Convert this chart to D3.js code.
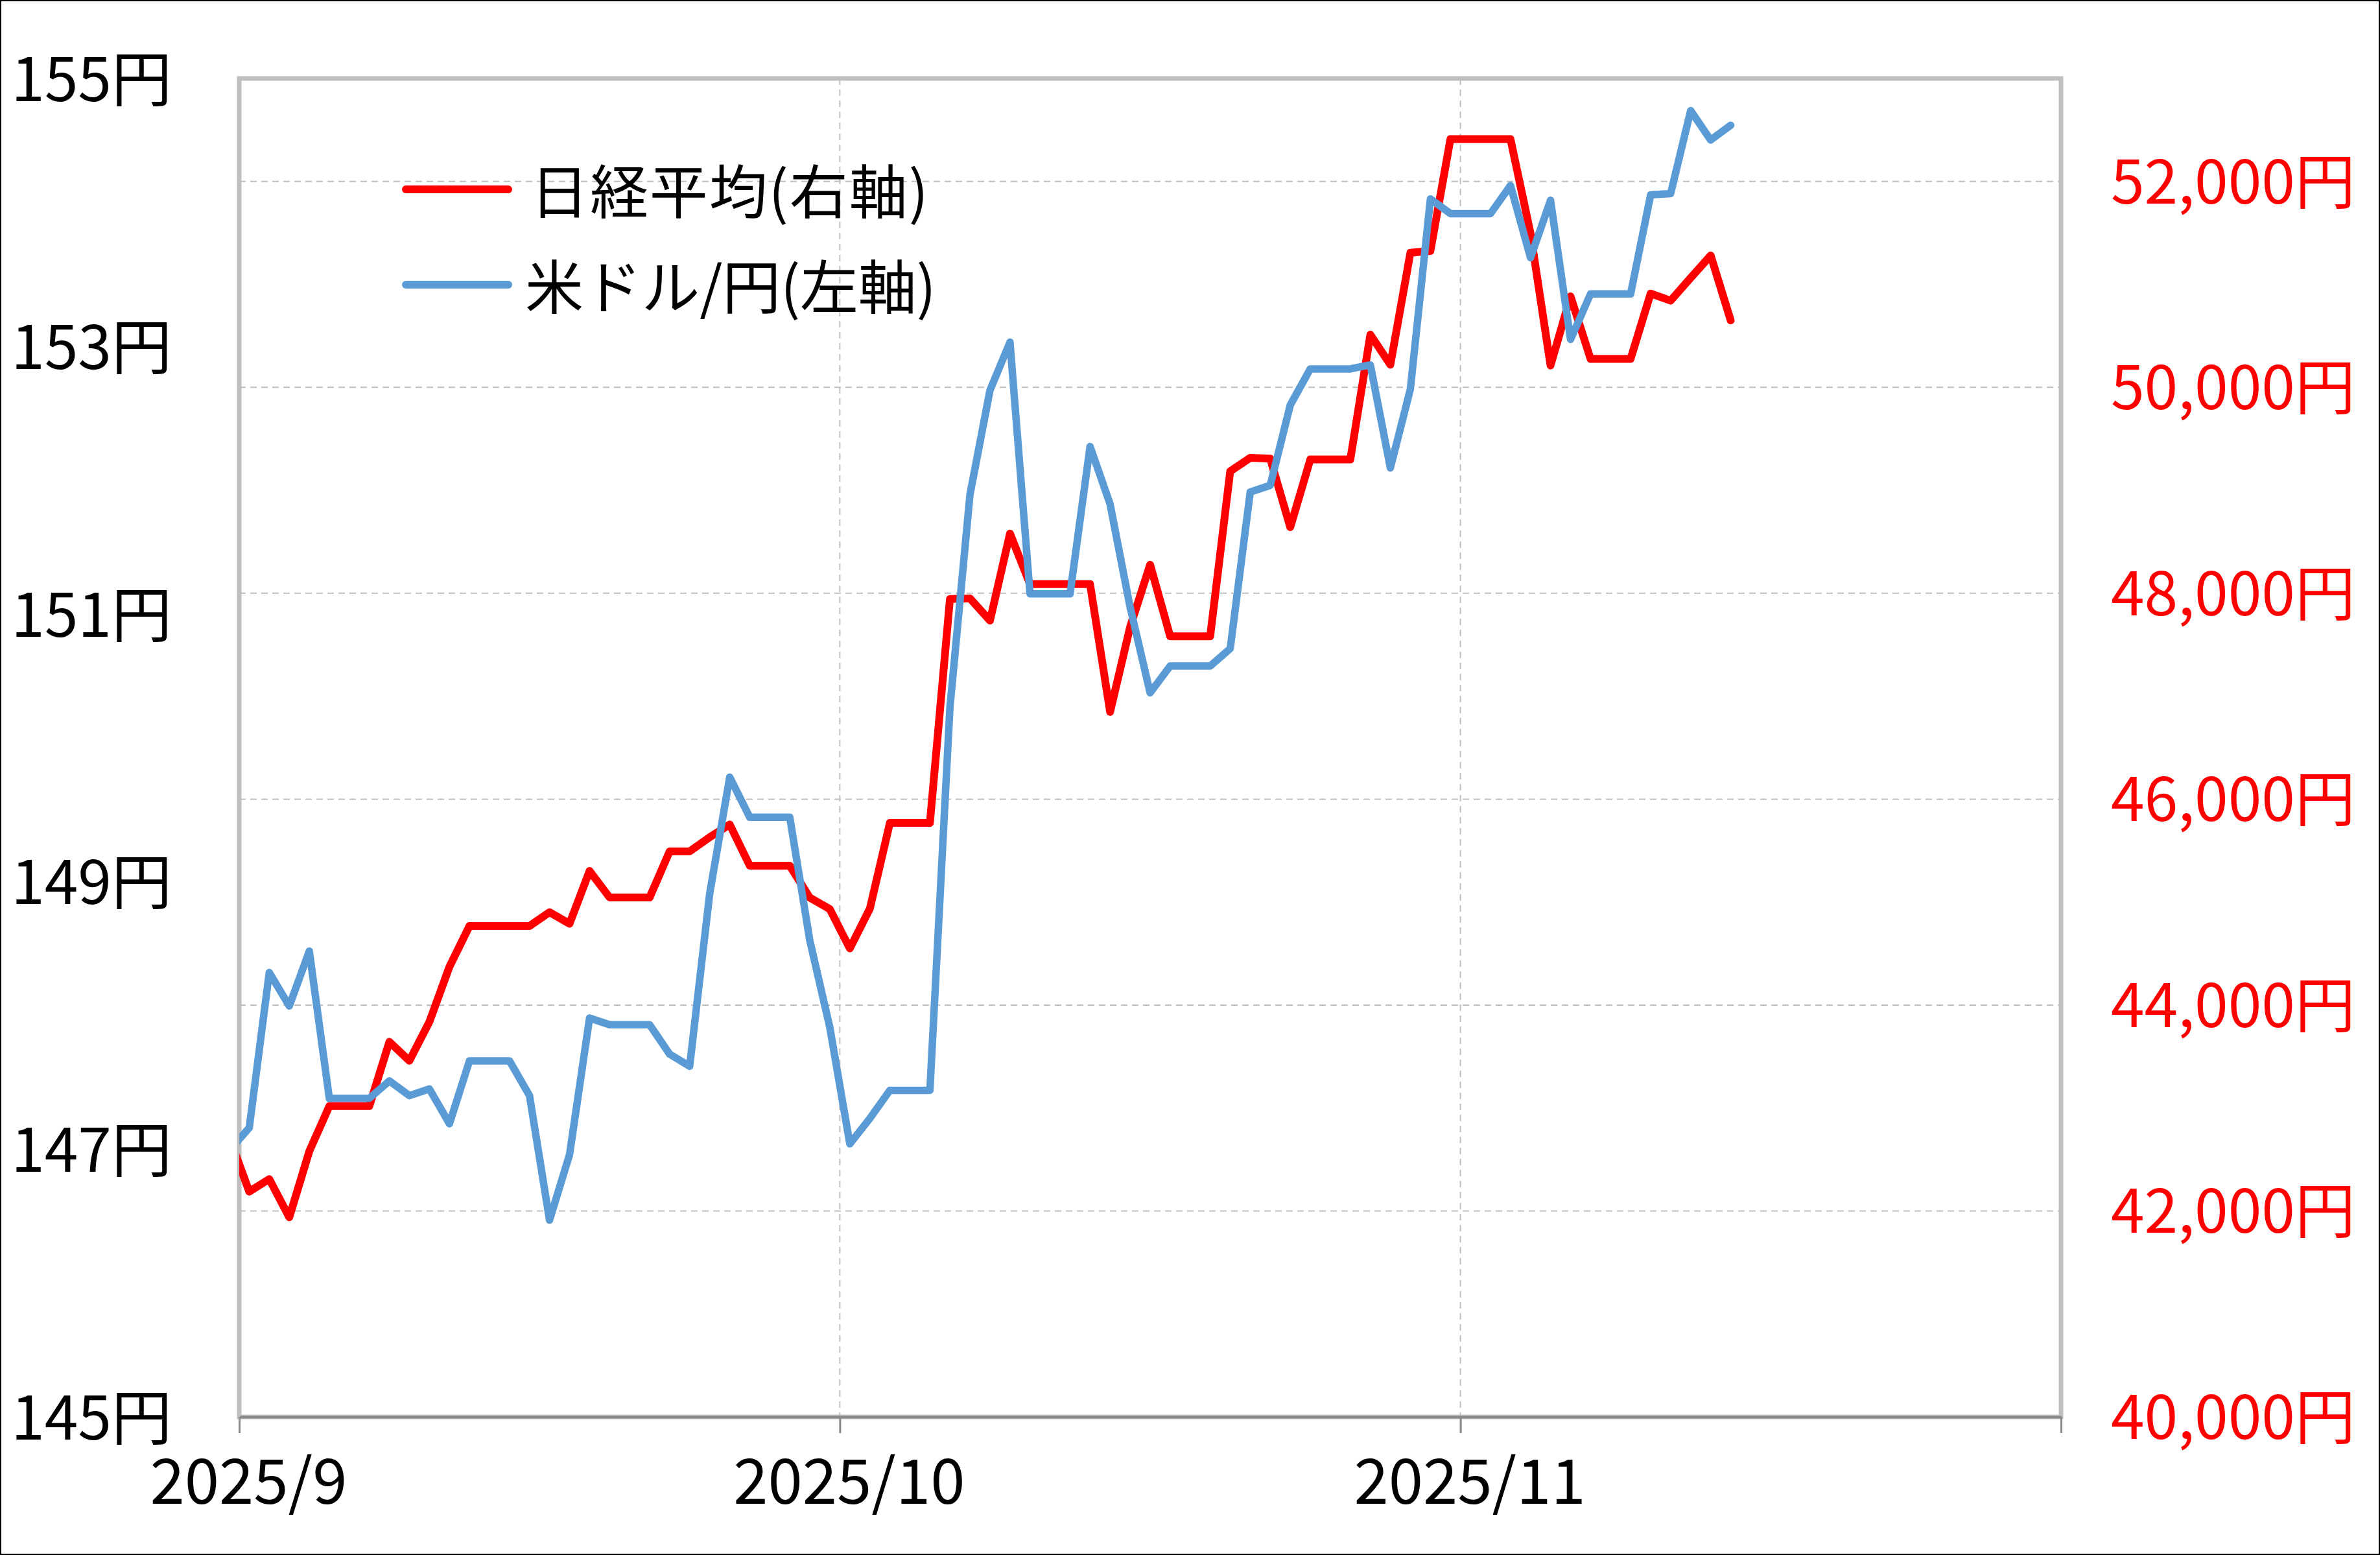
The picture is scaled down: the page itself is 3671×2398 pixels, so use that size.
<!DOCTYPE html>
<html><head><meta charset="utf-8">
<script src="https://cdn.jsdelivr.net/npm/d3@7"></script>
<style>html,body{margin:0;padding:0;background:#fff;} svg{display:block;}</style>
</head><body>
<svg id="chart" width="3671" height="2398"></svg>
<script>
// ---- data ----
const dates = [
 "2025-08-31",
 "2025-09-01","2025-09-02","2025-09-03","2025-09-04","2025-09-05","2025-09-06","2025-09-07",
 "2025-09-08","2025-09-09","2025-09-10","2025-09-11","2025-09-12","2025-09-13","2025-09-14",
 "2025-09-15","2025-09-16","2025-09-17","2025-09-18","2025-09-19","2025-09-20","2025-09-21",
 "2025-09-22","2025-09-23","2025-09-24","2025-09-25","2025-09-26","2025-09-27","2025-09-28",
 "2025-09-29","2025-09-30",
 "2025-10-01","2025-10-02","2025-10-03","2025-10-04","2025-10-05",
 "2025-10-06","2025-10-07","2025-10-08","2025-10-09","2025-10-10","2025-10-11","2025-10-12",
 "2025-10-13","2025-10-14","2025-10-15","2025-10-16","2025-10-17","2025-10-18","2025-10-19",
 "2025-10-20","2025-10-21","2025-10-22","2025-10-23","2025-10-24","2025-10-25","2025-10-26",
 "2025-10-27","2025-10-28","2025-10-29","2025-10-30","2025-10-31",
 "2025-11-01","2025-11-02","2025-11-03","2025-11-04","2025-11-05","2025-11-06","2025-11-07",
 "2025-11-08","2025-11-09",
 "2025-11-10","2025-11-11","2025-11-12","2025-11-13","2025-11-14"
];
const nikkei = [
 42718,
 42188,42310,41938,42580,43018,43018,43018,
 43643,43459,43837,44372,44768,44768,44768,
 44768,44902,44790,45303,45045,45045,45045,
 45493,45493,45630,45754,45354,45354,45354,
 45043,44932,
 44550,44936,45769,45769,45769,
 47944,47950,47734,48580,48088,48088,48088,
 48088,46847,47672,48277,47582,47582,47582,
 49185,49316,49307,48641,49299,49299,49299,
 50512,50219,51307,51325,52411,
 52411,52411,52411,51497,50212,50883,50276,
 50276,50276,
 50911,50842,51063,51281,50650
];
const usdjpy = [
 146.99,
 147.16,148.32,148.07,148.48,147.38,147.38,147.38,
 147.51,147.40,147.45,147.19,147.66,147.66,147.66,
 147.40,146.47,146.96,147.98,147.93,147.93,147.93,
 147.71,147.62,148.91,149.78,149.48,149.48,149.48,
 148.56,147.91,
 147.04,147.23,147.44,147.44,147.44,
 150.30,151.89,152.67,153.03,151.15,151.15,151.15,
 152.25,151.82,151.05,150.41,150.61,150.61,150.61,
 150.74,151.91,151.96,152.56,152.83,152.83,152.83,
 152.86,152.09,152.68,154.10,153.99,
 153.99,153.99,154.20,153.66,154.09,153.05,153.39,
 153.39,153.39,
 154.13,154.14,154.76,154.54,154.65
];
const leftTicks = [145,147,149,151,153,155];
const rightTicks = [40000,42000,44000,46000,48000,50000,52000];
const xTickDates = ["2025-09-01","2025-10-01","2025-11-01","2025-12-01"];
const xTickLabels = ["2025/9","2025/10","2025/11",""];
const seriesNames = ["日経平均(右軸)","米ドル/円(左軸)"];
const seriesColors = ["#FF0000","#5B9BD5"];

// ---- layout ----
const W = 3671, H = 2398;
const L = 369, R = 3179, T = 121, B = 2185;
const FONT = "'Noto Sans CJK JP','Noto Sans',sans-serif";
const parse = d3.timeParse("%Y-%m-%d");

const svg = d3.select("#chart");
svg.append("rect").attr("x",1).attr("y",1).attr("width",W-2).attr("height",H-2)
  .attr("fill","#fff").attr("stroke","#000").attr("stroke-width",2);

const x = d3.scaleTime().domain([parse("2025-09-01"), parse("2025-12-01")]).range([L, R]);
const yL = d3.scaleLinear().domain([145,155]).range([B, T]);
const yR = d3.scaleLinear().domain([40000,53000]).range([B, T]);
const half = d => d3.timeHour.offset(d, 12);

// gridlines (horizontal, from right axis)
svg.append("g").selectAll("line").data(rightTicks.filter(v => v > 40000)).join("line")
  .attr("x1", L).attr("x2", R).attr("y1", d => yR(d)).attr("y2", d => yR(d))
  .attr("stroke","#BFBFBF").attr("stroke-width",2).attr("stroke-dasharray","10,7");
// vertical gridlines
svg.append("g").selectAll("line").data(xTickDates.slice(1,3)).join("line")
  .attr("x1", d => x(parse(d))).attr("x2", d => x(parse(d))).attr("y1", T).attr("y2", B)
  .attr("stroke","#BFBFBF").attr("stroke-width",2).attr("stroke-dasharray","10,7");

// plot frame
svg.append("rect").attr("x",L).attr("y",T).attr("width",R-L).attr("height",B-T)
  .attr("fill","none").attr("stroke","#BFBFBF").attr("stroke-width",7);

// bottom axis
const xAxis = d3.axisBottom(x)
  .tickValues(xTickDates.map(parse))
  .tickFormat((d,i) => xTickLabels[i])
  .tickSize(25).tickSizeOuter(0);
const gx = svg.append("g").attr("transform",`translate(0,${B})`).call(xAxis);
gx.select(".domain").attr("stroke","#898989").attr("stroke-width",4);
gx.selectAll(".tick line").attr("stroke","#898989").attr("stroke-width",3);
gx.selectAll(".tick text").attr("font-family",FONT).attr("font-size",96).attr("fill","#000")
  .attr("y",0).attr("dy",0).attr("dx",14)
  .attr("transform","translate(0,92)")
  .attr("dominant-baseline","central");

// left axis
const gl = svg.append("g").attr("transform",`translate(${L},0)`)
  .call(d3.axisLeft(yL).tickValues(leftTicks).tickFormat(d => d + "円").tickSize(0).tickPadding(104));
gl.select(".domain").remove();
gl.selectAll(".tick text").attr("font-family",FONT).attr("font-size",93).attr("fill","#000")
  .attr("dy",-6).attr("dominant-baseline","central");

// right axis
const gr = svg.append("g").attr("transform",`translate(${R},0)`)
  .call(d3.axisRight(yR).tickValues(rightTicks).tickFormat(d => d3.format(",")(d) + "円").tickSize(0).tickPadding(77));
gr.select(".domain").remove();
gr.selectAll(".tick text").attr("font-family",FONT).attr("font-size",93).attr("fill","#FF0000")
  .attr("dy",-7).attr("dominant-baseline","central");

// clip
svg.append("defs").append("clipPath").attr("id","plotclip")
  .append("rect").attr("x",L).attr("y",T-20).attr("width",R-L).attr("height",B-T+40);

const pts = dates.map(parse);
const lineR = d3.line().x((d,i) => x(half(pts[i]))).y(d => yR(d));
const lineL = d3.line().x((d,i) => x(half(pts[i]))).y(d => yL(d));
const gLines = svg.append("g").attr("clip-path","url(#plotclip)");
gLines.append("path").datum(nikkei).attr("d", lineR).attr("fill","none")
  .attr("stroke",seriesColors[0]).attr("stroke-width",12)
  .attr("stroke-linejoin","round").attr("stroke-linecap","round");
gLines.append("path").datum(usdjpy).attr("d", lineL).attr("fill","none")
  .attr("stroke",seriesColors[1]).attr("stroke-width",11.5)
  .attr("stroke-linejoin","round").attr("stroke-linecap","round");

// legend
const legendY = [292, 439];
const legendLen = [614, 634];
const lg = svg.append("g");
seriesNames.forEach((name, i) => {
  lg.append("line").attr("x1",626).attr("x2",784).attr("y1",legendY[i]).attr("y2",legendY[i])
    .attr("stroke",seriesColors[i]).attr("stroke-width",12).attr("stroke-linecap","round");
  lg.append("text").attr("x",i === 0 ? 818 : 810).attr("y",legendY[i]).attr("dy",-2).attr("dominant-baseline","central")
    .attr("font-family",FONT).attr("font-size",90).attr("fill","#000")
    .attr("textLength",legendLen[i]).attr("lengthAdjust","spacing").text(name);
});
</script>
</body></html>
